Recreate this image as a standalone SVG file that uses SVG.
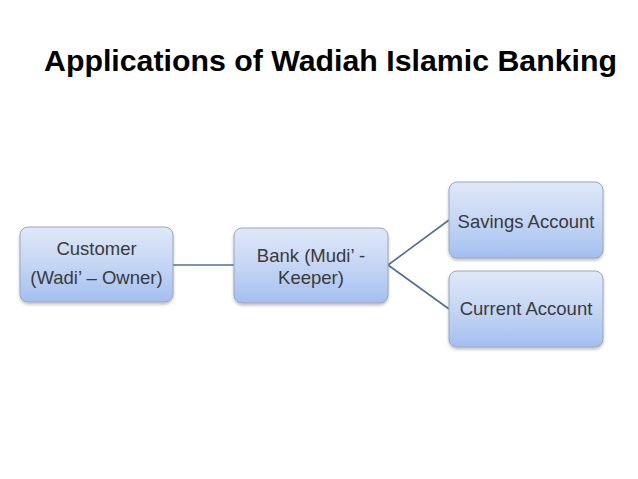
<svg xmlns="http://www.w3.org/2000/svg" width="638" height="479" viewBox="0 0 638 479">
<style>
.box{fill:url(#g);stroke:#9aa6b8;stroke-width:1}
.t{font-family:"Liberation Sans",Arial,sans-serif;font-size:18.5px;fill:#3a3a3a;text-anchor:middle}
.c{stroke:#4f6f96;stroke-width:1.6;fill:none}
</style>
<defs>
<linearGradient id="g" x1="0" y1="0" x2="0" y2="1">
<stop offset="0" stop-color="#dfe8f8"/>
<stop offset="0.5" stop-color="#c5d6f4"/>
<stop offset="1" stop-color="#a3bff0"/>
</linearGradient>
<filter id="sh" x="-10%" y="-10%" width="130%" height="140%">
<feDropShadow dx="0" dy="2" stdDeviation="1.5" flood-color="#000" flood-opacity="0.25"/>
</filter>
</defs>
<rect width="638" height="479" fill="#ffffff"/>
<text x="44" y="71" font-family="Liberation Sans,Arial,sans-serif" font-weight="bold" font-size="30" fill="#000" textLength="573" lengthAdjust="spacingAndGlyphs">Applications of Wadiah Islamic Banking</text>
<g id="connectors">
<line class="c" x1="173" y1="265" x2="234" y2="265"/>
<line class="c" x1="388" y1="265" x2="449" y2="220"/>
<line class="c" x1="388" y1="265" x2="449" y2="309"/>
</g>
<g id="customer">
<rect class="box" x="20" y="227" width="153" height="75" rx="8" filter="url(#sh)"/>
<text class="t" x="96.5" y="255">Customer</text>
<text class="t" x="96.5" y="284">(Wadi’ – Owner)</text>
</g>
<g id="bank">
<rect class="box" x="234" y="228" width="154" height="75" rx="8" filter="url(#sh)"/>
<text class="t" x="311" y="262">Bank (Mudi’ -</text>
<text class="t" x="311" y="284">Keeper)</text>
</g>
<g id="savings">
<rect class="box" x="449" y="182" width="154" height="76" rx="8" filter="url(#sh)"/>
<text class="t" x="526" y="228">Savings Account</text>
</g>
<g id="current">
<rect class="box" x="449" y="271" width="154" height="76" rx="8" filter="url(#sh)"/>
<text class="t" x="526" y="315">Current Account</text>
</g>
</svg>
